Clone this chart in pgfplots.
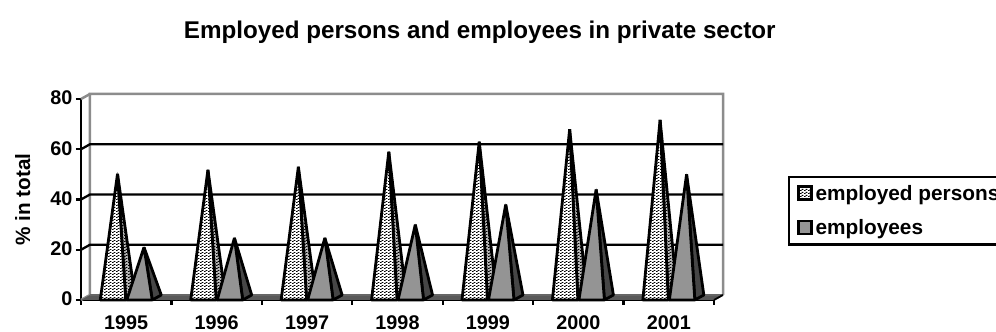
\documentclass[border=0pt]{standalone}
\usepackage{fontspec}
\setmainfont{Liberation Sans}
\usepackage{pgfplots}
\usepackage{pgfplotstable}
\pgfplotsset{compat=1.18}
\usetikzlibrary{patterns}

\pgfplotstableread{
year val
1995 49.2
1996 50.8
1997 52.0
1998 58.0
1999 62.0
2000 67.0
2001 70.7
}\employedpersons
\pgfplotstableread{
year val
1995 20.0
1996 23.7
1997 23.7
1998 29.0
1999 37.0
2000 43.0
2001 49.0
}\employees

% Speckled fill of the first series
\pgfdeclarepatternformonly{speckle}{\pgfqpoint{0pt}{0pt}}{\pgfqpoint{4pt}{3pt}}{\pgfqpoint{4pt}{3pt}}{
  \pgfpathrectangle{\pgfqpoint{0pt}{0pt}}{\pgfqpoint{2pt}{1pt}}
  \pgfpathrectangle{\pgfqpoint{2pt}{1.5pt}}{\pgfqpoint{2pt}{1pt}}
  \pgfusepath{fill}
}

% Pyramids standing on the floor, each with its tip at the plotted point
\pgfdeclareplotmark{pyrspeckle}{%
  \fill[gray!55] (12.75pt,-\h pt) -- (21.75pt,5pt-\h pt) -- (4.5pt,2.5pt) -- cycle;
  \fill[pattern=speckle,pattern color=black] (12.75pt,-\h pt) -- (21.75pt,5pt-\h pt) -- (4.5pt,2.5pt) -- cycle;
  \draw[black,line width=2.8pt,line join=bevel] (12.75pt,-\h pt) -- (21.75pt,5pt-\h pt) -- (4.5pt,2.5pt) -- cycle;
  \fill[white] (-12.75pt,-\h pt) -- (12.75pt,-\h pt) -- (4.5pt,2.5pt) -- cycle;
  \fill[pattern=speckle,pattern color=black] (-12.75pt,-\h pt) -- (12.75pt,-\h pt) -- (4.5pt,2.5pt) -- cycle;
  \draw[black,line width=2.8pt,line join=bevel] (-12.75pt,-\h pt) -- (12.75pt,-\h pt) -- (4.5pt,2.5pt) -- cycle;
}
\pgfdeclareplotmark{pyrgray}{%
  \fill[gray!55!black] (12.75pt,-\h pt) -- (21.75pt,5pt-\h pt) -- (4.5pt,2.5pt) -- cycle;
  \draw[black,line width=2.8pt,line join=bevel] (12.75pt,-\h pt) -- (21.75pt,5pt-\h pt) -- (4.5pt,2.5pt) -- cycle;
  \fill[black!42] (-12.75pt,-\h pt) -- (12.75pt,-\h pt) -- (4.5pt,2.5pt) -- cycle;
  \draw[black,line width=2.8pt,line join=bevel] (-12.75pt,-\h pt) -- (12.75pt,-\h pt) -- (4.5pt,2.5pt) -- cycle;
}

\begin{document}
\begin{tikzpicture}[x=1pt,y=1pt]
\useasboundingbox (0,0) rectangle (996,332);
\clip (0,0) rectangle (996,332);
\begin{axis}[
  at={(81pt,32pt)}, anchor=south west,
  scale only axis, width=633pt, height=201pt,
  xmin=0, xmax=7, ymin=0, ymax=80,
  clip=false,
  axis lines*=left,
  axis line style={-,line width=2.8pt,black},
  tick style={black,line width=2.4pt},
  tick align=outside,
  xtick={0.5,1.5,...,6.5},
  xticklabels={1995,1996,1997,1998,1999,2000,2001},
  minor xtick={0,1,...,7},
  major x tick style={draw=none},
  major tick length=5pt,
  minor tick length=5pt,
  ytick={0,20,...,80},
  tick label style={font=\fontsize{19.8}{24}\selectfont\bfseries},
  /pgf/number format/assume math mode=true,
  xticklabel style={yshift=-7pt},
  yticklabel style={xshift=0pt,yshift=1pt},
  ylabel={\% in total},
  ylabel style={font=\fontsize{20.7}{24}\selectfont\bfseries,at={(axis description cs:-0.092,0.5)},anchor=center},
  title={Employed persons and employees in private sector},
  title style={font=\fontsize{24.2}{28}\selectfont\bfseries,at={(0.63,1.303)},anchor=center},
  legend style={at={(1.1169,0.617)},anchor=north west,draw=black,line width=2.4pt,
    font=\fontsize{20.8}{25}\selectfont\bfseries,
    legend cell align=left,row sep=14pt,inner xsep=8pt,inner ysep=6pt,
    nodes={inner xsep=3pt}},
  visualization depends on={\thisrow{val}*2.5125 \as \h},
]
% Back wall, floor and grid of the chart box
\fill[white] (axis cs:0.0995,2) rectangle (axis cs:7.0995,82);
\draw[gray!90,line width=2.5pt] (axis cs:0,0) -- (axis cs:0.0995,2) -- (axis cs:0.0995,82) -- (axis cs:7.0995,82) -- (axis cs:7.0995,2);
\draw[gray!90,line width=2.5pt] (axis cs:0,80) -- (axis cs:0.0995,82);
\fill[gray!70!black] (axis cs:0,0) -- (axis cs:0.0995,2) -- (axis cs:7.0995,2) -- (axis cs:7,0) -- cycle;
\draw[black!60,line width=1.2pt] (axis cs:0.0995,2) -- (axis cs:7.0995,2);
\draw[black,line width=1.8pt] (axis cs:7.0995,2) -- (axis cs:7,0);
\foreach \v/\w in {20/22,40/42,60/62} {
  \edef\temp{\noexpand\draw[black,line width=2.3pt] (axis cs:0,\v) -- (axis cs:0.0995,\w) -- (axis cs:7.0995,\w);}
  \temp
}

\addplot[only marks,mark=pyrspeckle,
  legend image code/.code={
    \fill[white] (0pt,-6pt) rectangle (13pt,7pt);
    \fill[pattern=speckle,pattern color=black] (0pt,-6pt) rectangle (13pt,7pt);
    \draw[black,line width=2.4pt] (0pt,-6pt) rectangle (13pt,7pt);}]
  table[x expr=\thisrow{year}-1995+0.354,y=val] {\employedpersons};
\addlegendentry{employed persons}
\addplot[only marks,mark=pyrgray,
  legend image code/.code={
    \fill[black!42] (0pt,-6pt) rectangle (13pt,7pt);
    \draw[black,line width=2.4pt] (0pt,-6pt) rectangle (13pt,7pt);}]
  table[x expr=\thisrow{year}-1995+0.647,y=val] {\employees};
\addlegendentry{employees}
\end{axis}
\end{tikzpicture}
\end{document}
